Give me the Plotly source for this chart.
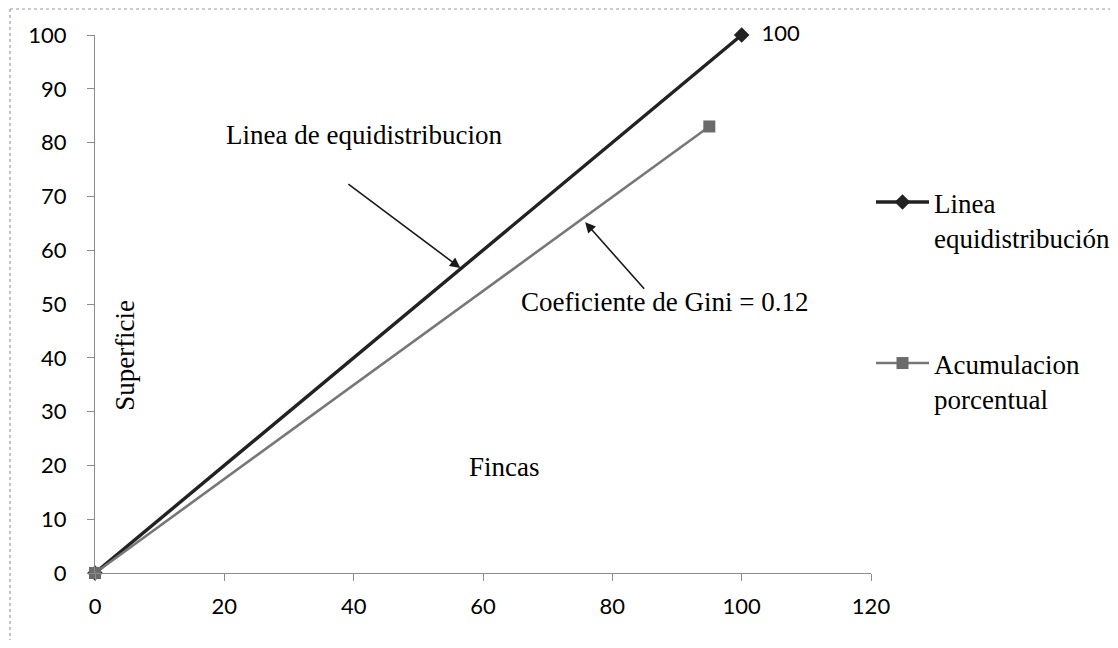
import plotly.graph_objects as go

# Data
eq_x = [0, 100]
eq_y = [0, 100]
acc_x = [0, 95]
acc_y = [0, 83]
eq_labels = ["", "100"]
x_ticks = [0, 20, 40, 60, 80, 100, 120]
y_ticks = [0, 10, 20, 30, 40, 50, 60, 70, 80, 90, 100]

SERIF = "Liberation Serif, Times New Roman, serif"
SANS = "Lato, Open Sans, sans-serif"
TXT = 27

fig = go.Figure()
fig.add_trace(go.Scatter(
    x=eq_x, y=eq_y, mode="lines+markers+text",
    name="Linea<br>equidistribución",
    text=eq_labels, texttemplate="\u00a0\u00a0%{text}", textposition="middle right",
    textfont=dict(family=SANS, size=22, color="#000"),
    line=dict(color="#222222", width=3.4),
    marker=dict(symbol="diamond", size=12, color="#222222"),
    cliponaxis=False,
    legend="legend",
))
fig.add_trace(go.Scatter(
    x=acc_x, y=acc_y, mode="lines+markers",
    name="Acumulacion<br>porcentual",
    line=dict(color="#777777", width=2.6),
    marker=dict(symbol="square", size=12, color="#6a6a6a"),
    cliponaxis=False,
    legend="legend2",
))

axis_common = dict(
    showgrid=False, zeroline=False, showline=True, linecolor="#8c8c8c", linewidth=1,
    ticks="outside", ticklen=7, tickcolor="#8c8c8c",
    tickfont=dict(family=SANS, size=22, color="#000"),
)
fig.update_xaxes(range=[0, 120], tickvals=x_ticks, ticklabelstandoff=7, **axis_common)
fig.update_yaxes(range=[0, 100], tickvals=y_ticks, ticklabelstandoff=16, **axis_common)

legend_common = dict(
    font=dict(family=SERIF, size=TXT, color="#000"),
    bgcolor="rgba(0,0,0,0)", xanchor="left", yanchor="top",
    itemwidth=53, valign="top", tracegroupgap=0,
)

fig.update_layout(
    width=1102, height=632,
    margin=dict(l=87, r=239, t=27, b=67, autoexpand=False),
    paper_bgcolor="white", plot_bgcolor="white",
    showlegend=True,
    legend=dict(x=1.0, y=(573 - 178) / 538, **legend_common),
    legend2=dict(x=1.0, y=(573 - 339) / 538, **legend_common),
    annotations=[
        dict(x=41.6, y=81.4, xref="x", yref="y", text="Linea de equidistribucion",
             showarrow=False, font=dict(family=SERIF, size=TXT, color="#000")),
        dict(x=88.1, y=50.4, xref="x", yref="y", text="Coeficiente de Gini = 0.12",
             showarrow=False, font=dict(family=SERIF, size=TXT, color="#000")),
        dict(x=4.6, y=40.5, xref="x", yref="y", text="Superficie", textangle=-90,
             showarrow=False, font=dict(family=SERIF, size=TXT, color="#000")),
        dict(x=63.4, y=19.7, xref="x", yref="y", text="Fincas",
             showarrow=False, font=dict(family=SERIF, size=TXT, color="#000")),
        dict(x=56.5, y=56.7, xref="x", yref="y", text=" ", ax=-115, ay=-86,
             showarrow=True, arrowhead=2, arrowsize=1.3, arrowwidth=1.6, arrowcolor="#1a1a1a",
             standoff=0, startstandoff=0),
        dict(x=75.8, y=65.2, xref="x", yref="y", text=" ", ax=62, ay=70,
             showarrow=True, arrowhead=2, arrowsize=1.3, arrowwidth=1.6, arrowcolor="#1a1a1a",
             standoff=0, startstandoff=0),
    ],
    shapes=[
        dict(type="line", xref="paper", yref="paper",
             x0=(10 - 95) / 776, x1=(1118 - 95) / 776,
             y0=(573 - 9) / 538, y1=(573 - 9) / 538,
             line=dict(color="#9a9a9a", width=1.2, dash="dot")),
        dict(type="line", xref="paper", yref="paper",
             x0=(10 - 95) / 776, x1=(10 - 95) / 776,
             y0=(573 - 9) / 538, y1=(573 - 648) / 538,
             line=dict(color="#9a9a9a", width=1.2, dash="dot")),
    ],
)

fig.write_html("out.html")
